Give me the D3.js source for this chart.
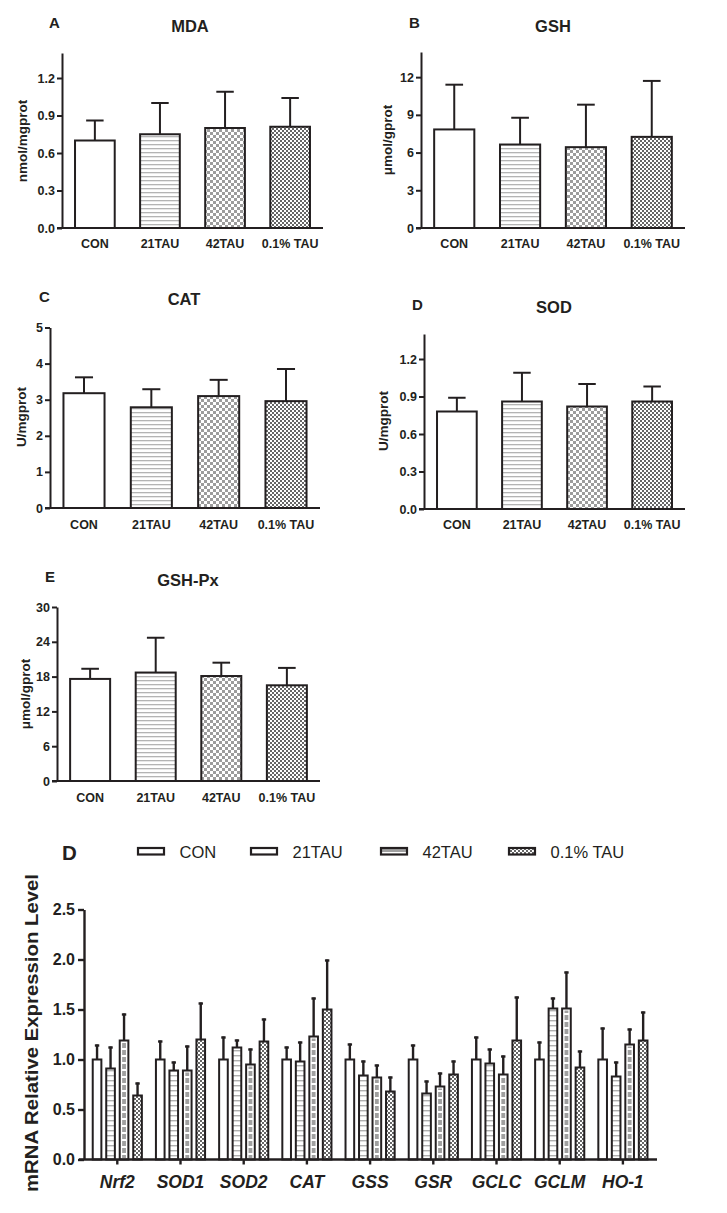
<!DOCTYPE html>
<meta charset="utf-8">
<script src="https://d3js.org/d3.v7.min.js"></script>
<style>
  body { margin: 0; background: #fff; }
  text { font-family: "Liberation Sans", Arial, sans-serif; fill: #231f20; }
</style>
<div id="chart"></div>
<script>
// groups and values
const groups = ["CON", "21TAU", "42TAU", "0.1% TAU"];

const mdaMean = [0.70, 0.75, 0.80, 0.81];
const mdaErr  = [0.16, 0.25, 0.29, 0.23];
const gshMean = [7.84, 6.64, 6.43, 7.25];
const gshErr  = [3.56, 2.13, 3.38, 4.45];
const catMean = [3.18, 2.79, 3.10, 2.96];
const catErr  = [0.44, 0.50, 0.45, 0.89];
const sodMean = [0.78, 0.86, 0.82, 0.86];
const sodErr  = [0.11, 0.23, 0.18, 0.12];
const gpxMean = [17.6, 18.7, 18.1, 16.5];
const gpxErr  = [1.75, 6.0, 2.3, 3.0];

const genes = ["Nrf2", "SOD1", "SOD2", "CAT", "GSS", "GSR", "GCLC", "GCLM", "HO-1"];
const conMean   = [1.00, 1.00, 1.00, 1.00, 1.00, 1.00, 1.00, 1.00, 1.00];
const conErr    = [0.15, 0.19, 0.23, 0.13, 0.16, 0.15, 0.23, 0.18, 0.32];
const tau21Mean = [0.91, 0.89, 1.12, 0.98, 0.84, 0.66, 0.96, 1.51, 0.83];
const tau21Err  = [0.22, 0.09, 0.08, 0.20, 0.15, 0.13, 0.15, 0.11, 0.15];
const tau42Mean = [1.19, 0.89, 0.95, 1.23, 0.82, 0.73, 0.85, 1.51, 1.15];
const tau42Err  = [0.27, 0.25, 0.16, 0.39, 0.13, 0.14, 0.19, 0.37, 0.16];
const tau01Mean = [0.64, 1.20, 1.18, 1.50, 0.68, 0.85, 1.19, 0.92, 1.19];
const tau01Err  = [0.13, 0.37, 0.23, 0.50, 0.15, 0.14, 0.44, 0.17, 0.29];

const ink = "#231f20";
const font = "'Liberation Sans', Arial, sans-serif";

const svg = d3.select("#chart").append("svg")
    .attr("width", 727).attr("height", 1213);

// fill patterns
const defs = svg.append("defs");
let p = defs.append("pattern").attr("id", "stripe").attr("patternUnits", "userSpaceOnUse")
    .attr("width", 4).attr("height", 4);
p.append("rect").attr("width", 4).attr("height", 4).attr("fill", "#fff");
p.append("rect").attr("y", 0).attr("width", 4).attr("height", 1.3).attr("fill", "#b4b4b4");

p = defs.append("pattern").attr("id", "stripe2").attr("patternUnits", "userSpaceOnUse")
    .attr("width", 4).attr("height", 5);
p.append("rect").attr("width", 4).attr("height", 5).attr("fill", "#fff");
p.append("rect").attr("y", 0).attr("width", 4).attr("height", 1.4).attr("fill", "#b0b0b0");

p = defs.append("pattern").attr("id", "check").attr("patternUnits", "userSpaceOnUse")
    .attr("width", 6).attr("height", 6);
p.append("rect").attr("width", 6).attr("height", 6).attr("fill", "#fff");
p.append("rect").attr("width", 3).attr("height", 3).attr("fill", "#9c9c9c");
p.append("rect").attr("x", 3).attr("y", 3).attr("width", 3).attr("height", 3).attr("fill", "#9c9c9c");

p = defs.append("pattern").attr("id", "fine").attr("patternUnits", "userSpaceOnUse")
    .attr("width", 4).attr("height", 4);
p.append("rect").attr("width", 4).attr("height", 4).attr("fill", "#fff");
p.append("rect").attr("width", 2).attr("height", 2).attr("fill", "#666");
p.append("rect").attr("x", 2).attr("y", 2).attr("width", 2).attr("height", 2).attr("fill", "#666");

p = defs.append("pattern").attr("id", "dash").attr("patternUnits", "userSpaceOnUse")
    .attr("width", 4).attr("height", 7);
p.append("rect").attr("width", 4).attr("height", 7).attr("fill", "#fff");
p.append("rect").attr("width", 4).attr("height", 5).attr("fill", "#a0a0a0");

const topFills = ["#fff", "url(#stripe)", "url(#check)", "url(#fine)"];

// small panels A-E
const panels = [
  {mean: mdaMean, err: mdaErr, x0: 62, x1: 323, yTop: 53, yBase: 228, max: 1.4, step: 0.3, fmt: ".1f",
   letter: "A", lx: 49, ly: 28, title: "MDA", tx: 190, ty: 32, ylab: "nmol/mgprot", ylx: 27, yly: 141, xly: 248},
  {mean: gshMean, err: gshErr, x0: 421, x1: 685, yTop: 52, yBase: 228, max: 14, step: 3, fmt: "d",
   letter: "B", lx: 409, ly: 28, title: "GSH", tx: 553, ty: 32, ylab: "\u03bcmol/gprot", ylx: 392, yly: 140, xly: 248},
  {mean: catMean, err: catErr, x0: 50, x1: 320, yTop: 327.5, yBase: 508, max: 5, step: 1, fmt: "d",
   letter: "C", lx: 39, ly: 302, title: "CAT", tx: 184, ty: 305, ylab: "U/mgprot", ylx: 26, yly: 417, xly: 529},
  {mean: sodMean, err: sodErr, x0: 424, x1: 685, yTop: 334, yBase: 509, max: 1.4, step: 0.3, fmt: ".1f",
   letter: "D", lx: 412, ly: 310, title: "SOD", tx: 554, ty: 313, ylab: "U/mgprot", ylx: 388, yly: 421, xly: 529},
  {mean: gpxMean, err: gpxErr, x0: 57, x1: 320, yTop: 607, yBase: 781, max: 30, step: 6, fmt: "d",
   letter: "E", lx: 45, ly: 582, title: "GSH-Px", tx: 188, ty: 586, ylab: "\u03bcmol/gprot", ylx: 30, yly: 694, xly: 802}
];

panels.forEach(function (P) {
  const g = svg.append("g");
  const x = d3.scaleBand().domain(groups).range([P.x0, P.x1]).paddingInner(0.39).paddingOuter(0.2);
  const y = d3.scaleLinear().domain([0, P.max]).range([P.yBase, P.yTop]);
  const ticks = d3.range(0, P.max + 1e-9, P.step);

  const data = groups.map((k, i) => ({k: k, m: P.mean[i], e: P.err[i], f: topFills[i]}));

  // error bars (upper only)
  const cap = x.bandwidth() * 0.22;
  data.forEach(function (d) {
    const cx = x(d.k) + x.bandwidth() / 2;
    g.append("line").attr("x1", cx).attr("x2", cx).attr("y1", y(d.m)).attr("y2", y(d.m + d.e))
      .attr("stroke", ink).attr("stroke-width", 2);
    g.append("line").attr("x1", cx - cap).attr("x2", cx + cap).attr("y1", y(d.m + d.e)).attr("y2", y(d.m + d.e))
      .attr("stroke", ink).attr("stroke-width", 2);
  });

  g.selectAll("rect.bar").data(data).join("rect")
    .attr("class", "bar")
    .attr("x", d => x(d.k))
    .attr("y", d => y(d.m))
    .attr("width", x.bandwidth())
    .attr("height", d => y(0) - y(d.m))
    .attr("fill", d => d.f)
    .attr("stroke", ink).attr("stroke-width", 2);

  // y axis
  const ya = g.append("g").attr("transform", `translate(${P.x0},0)`)
    .call(d3.axisLeft(y).tickValues(ticks).tickFormat(d3.format(P.fmt)).tickSize(5).tickSizeOuter(0).tickPadding(2));
  ya.select(".domain").attr("stroke", ink).attr("stroke-width", 2);
  ya.selectAll(".tick line").attr("stroke", ink).attr("stroke-width", 2);
  ya.selectAll(".tick text").attr("font-size", 12.5).attr("font-weight", "bold").attr("fill", ink)
    .style("font-family", font);

  // x axis (no ticks)
  const xa = g.append("g").attr("transform", `translate(0,${P.yBase})`)
    .call(d3.axisBottom(x).tickSize(0).tickSizeOuter(0).tickPadding(P.xly - P.yBase - 9));
  xa.select(".domain").attr("stroke", ink).attr("stroke-width", 2).attr("d", `M${P.x0 - 5},0H${P.x1}`);
  xa.selectAll(".tick text").attr("font-size", 12.5).attr("font-weight", "bold").attr("fill", ink)
    .style("font-family", font);

  g.append("text").attr("x", P.lx).attr("y", P.ly).attr("font-size", 15).attr("font-weight", "bold").text(P.letter);
  g.append("text").attr("x", P.tx).attr("y", P.ty).attr("text-anchor", "middle")
    .attr("font-size", 16.5).attr("font-weight", "bold").text(P.title);
  g.append("text").attr("transform", `translate(${P.ylx},${P.yly}) rotate(-90)`)
    .attr("text-anchor", "middle").attr("font-size", 13.5).attr("font-weight", "bold").text(P.ylab);
});

// bottom grouped chart
const gb = svg.append("g");
const axX = 84, baseY = 1159.5;
const yB = d3.scaleLinear().domain([0, 2.5]).range([baseY, baseY - 250]);
const xG = d3.scaleBand().domain(genes).range([85.7, 654.5]).padding(0);
const xS = d3.scaleBand().domain(groups).range([-27, 27]).paddingInner(0.36).paddingOuter(0.18);

const series = [
  {k: groups[0], m: conMean, e: conErr},
  {k: groups[1], m: tau21Mean, e: tau21Err},
  {k: groups[2], m: tau42Mean, e: tau42Err},
  {k: groups[3], m: tau01Mean, e: tau01Err}
];
const bw = xS.bandwidth();

series.forEach(function (s, si) {
  genes.forEach(function (gn, i) {
    const bx = xG(gn) + xG.bandwidth() / 2 + xS(s.k);
    const cx = bx + bw / 2;
    const top = yB(s.m[i]), etop = yB(s.m[i] + s.e[i]);
    gb.append("line").attr("x1", cx).attr("x2", cx).attr("y1", top).attr("y2", etop)
      .attr("stroke", ink).attr("stroke-width", 2.4);
    gb.append("line").attr("x1", cx - 2.2).attr("x2", cx + 2.2).attr("y1", etop + 1).attr("y2", etop + 1)
      .attr("stroke", ink).attr("stroke-width", 2.4);
    const fill = si === 1 ? "url(#stripe2)" : si === 3 ? "url(#fine)" : "#fff";
    gb.append("rect").attr("x", bx).attr("y", top).attr("width", bw).attr("height", baseY - top)
      .attr("fill", fill).attr("stroke", ink).attr("stroke-width", 2);
    if (si === 2) {
      gb.append("rect").attr("x", bx + 2.4).attr("y", top + 2).attr("width", bw - 4.8)
        .attr("height", Math.max(0, baseY - top - 3)).attr("fill", "url(#dash)");
    }
  });
});

const yaB = gb.append("g").attr("transform", `translate(${axX},0)`)
  .call(d3.axisLeft(yB).tickValues([0, 0.5, 1, 1.5, 2, 2.5]).tickFormat(d3.format(".1f"))
    .tickSize(6).tickSizeOuter(0).tickPadding(3));
yaB.select(".domain").attr("stroke", ink).attr("stroke-width", 2.4);
yaB.selectAll(".tick line").attr("stroke", ink).attr("stroke-width", 2.4);
yaB.selectAll(".tick text").attr("font-size", 16).attr("font-weight", "bold").attr("fill", ink)
  .style("font-family", font);

const xaB = gb.append("g").attr("transform", `translate(0,${baseY})`)
  .call(d3.axisBottom(xG).tickSize(5).tickSizeOuter(0).tickPadding(11));
xaB.select(".domain").attr("stroke", ink).attr("stroke-width", 2.4).attr("d", `M${axX - 5},0H657`);
xaB.selectAll(".tick line").attr("stroke", ink).attr("stroke-width", 2.4);
xaB.selectAll(".tick text").attr("font-size", 17.5).attr("font-weight", "bold").attr("font-style", "italic")
  .attr("fill", ink).style("font-family", font);

gb.append("text").attr("transform", "translate(37.5,1033) rotate(-90)").attr("text-anchor", "middle")
  .attr("font-size", 18).attr("font-weight", "bold")
  .attr("textLength", 318).attr("lengthAdjust", "spacingAndGlyphs")
  .text("mRNA Relative Expression Level");

gb.append("text").attr("x", 62).attr("y", 860).attr("font-size", 20.5).attr("font-weight", "bold").text("D");

// legend
const legX = [138, 251, 381, 509];
const legFill = ["#fff", "#fff", "url(#dash)", "url(#fine)"];
groups.forEach(function (k, i) {
  gb.append("rect").attr("x", legX[i]).attr("y", 848).attr("width", 26).attr("height", 6.5)
    .attr("fill", legFill[i]).attr("stroke", ink).attr("stroke-width", 2.2);
  gb.append("text").attr("x", legX[i] + 41.5).attr("y", 857.5).attr("font-size", 16.5)
    .text(k);
});
</script>
